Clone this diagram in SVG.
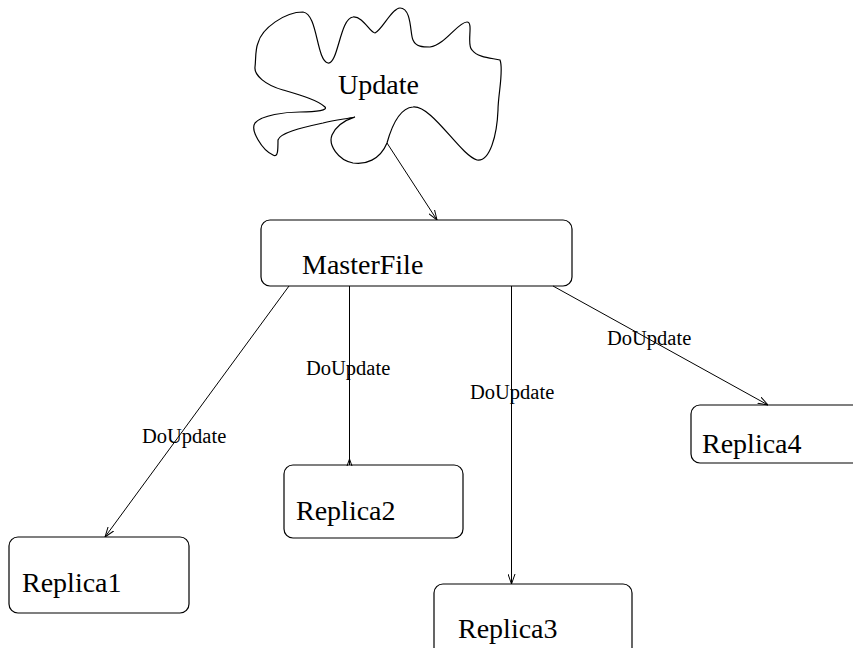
<svg xmlns="http://www.w3.org/2000/svg" width="853" height="648" viewBox="0 0 853 648">
  <defs>
    <style>
      .box { fill: #ffffff; stroke: #000000; stroke-width: 1.2; }
      .cloud { fill: none; stroke: #000000; stroke-width: 1.2; }
      .edge { fill: none; stroke: #000000; stroke-width: 1; }
      .big { font-family: "Liberation Serif", "Times New Roman", serif; font-size: 28px; fill: #000000; }
      .lbl { font-family: "Liberation Serif", "Times New Roman", serif; font-size: 20.5px; fill: #000000; }
    </style>
    <marker id="stick" viewBox="0 0 10 8" markerWidth="10" markerHeight="8" refX="10" refY="4" orient="auto" markerUnits="userSpaceOnUse">
      <path d="M0,0.5 L10,4 L0,7.5" fill="none" stroke="#000000" stroke-width="1"/>
    </marker>
  </defs>

  <rect width="853" height="648" fill="#ffffff"/>

  <!-- event cloud -->
  <g id="update">
    <path class="cloud" d="M258,43 C262,28 285,12 303,12 C318,14 316,60 328,63 C338,65 340,18 353,17 C363,16 370,33 375,33 C382,30 392,8 400,8 C412,8 410,35 413,40 C416,47 423,47 430,47 C445,45 458,22 467,22 C474,22 466,45 472,50 C478,58 492,58 500,60 C504,70 498,95 498,110 C497,135 490,162 477,160 C460,155 432,105 413,107 C400,108 392,125 387,143 C380,160 365,165 353,163 C338,160 328,145 332,135 C338,122 352,118 355,117 C345,119 335,120 323,123 C300,128 280,133 278,140 C278,150 278,158 273,155 C262,150 250,130 255,123 C262,115 285,112 300,112 C318,112 328,110 325,107 C318,100 300,95 283,90 C265,85 254,75 255,67 C256,60 255,50 258,43 Z"/>
    <text class="big" x="338" y="94">Update</text>
  </g>

  <g id="masterfile">
    <rect class="box" x="261" y="220" width="311" height="66" rx="9" ry="9"/>
    <text class="big" x="302" y="274">MasterFile</text>
  </g>

  <g id="replica1">
    <rect class="box" x="9" y="537" width="180" height="76" rx="9" ry="9"/>
    <text class="big" x="22" y="592">Replica1</text>
  </g>

  <g id="replica2">
    <rect class="box" x="284" y="465" width="179" height="73" rx="9" ry="9"/>
    <text class="big" x="296" y="520">Replica2</text>
  </g>

  <g id="replica3">
    <rect class="box" x="434" y="584" width="198" height="80" rx="9" ry="9"/>
    <text class="big" x="458" y="638">Replica3</text>
  </g>

  <g id="replica4">
    <rect class="box" x="691" y="405" width="180" height="58" rx="9" ry="9"/>
    <text class="big" x="702" y="453">Replica4</text>
  </g>

  <!-- connectors -->
  <g id="connectors">
    <line class="edge" x1="387" y1="143" x2="437" y2="220" marker-end="url(#stick)"/>
    <line class="edge" x1="289" y1="286" x2="105" y2="537" marker-end="url(#stick)"/>
    <line class="edge" x1="349.5" y1="286" x2="349.5" y2="465"/>
    <polyline class="edge" points="347,466 349.5,459 352,466"/>
    <line class="edge" x1="511.5" y1="286" x2="511.5" y2="584" marker-end="url(#stick)"/>
    <line class="edge" x1="553" y1="286" x2="768" y2="405" marker-end="url(#stick)"/>
    <text class="lbl" x="142" y="443">DoUpdate</text>
    <text class="lbl" x="306" y="375">DoUpdate</text>
    <text class="lbl" x="470" y="399">DoUpdate</text>
    <text class="lbl" x="607" y="345">DoUpdate</text>
  </g>
</svg>
